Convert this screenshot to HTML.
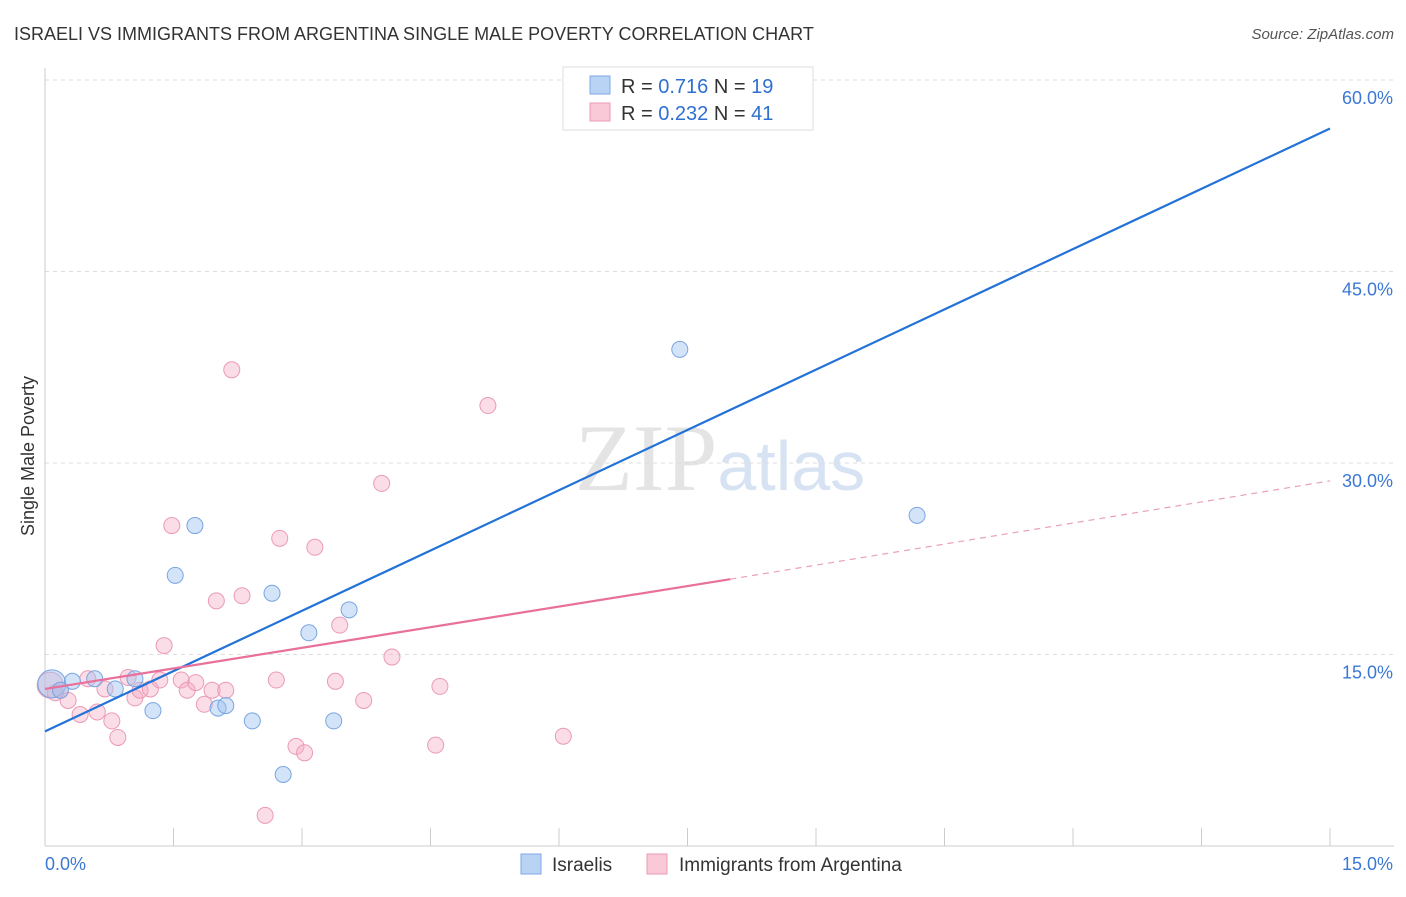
<!DOCTYPE html>
<html><head><meta charset="utf-8"><style>
body{margin:0;background:#fff;font-family:"Liberation Sans",sans-serif;}
</style></head><body>
<svg width="1406" height="892" xmlns="http://www.w3.org/2000/svg">
<text x="14" y="40" font-size="18" fill="#333">ISRAELI VS IMMIGRANTS FROM ARGENTINA SINGLE MALE POVERTY CORRELATION CHART</text>
<text x="1394" y="39" font-size="15" fill="#555" font-style="italic" text-anchor="end">Source: ZipAtlas.com</text>
<text x="34" y="456" font-size="18" fill="#333" transform="rotate(-90 34 456)" text-anchor="middle">Single Male Poverty</text>
<text x="720" y="490" font-size="95" fill="#e4e4e4" text-anchor="middle" font-family="Liberation Serif,serif">ZIP<tspan fill="#d7e3f3" font-family="Liberation Sans,sans-serif" font-size="70">atlas</tspan></text>
<g id="grid"></g><g id="axes"></g><g id="marks"></g>
<g>
<rect x="563" y="67" width="250" height="63" fill="#fff" stroke="#ddd"/>
<rect x="590" y="76" width="20" height="18" fill="#b9d3f5" stroke="#7eaae6"/>
<text x="621" y="93" font-size="20" fill="#333">R = <tspan fill="#2f6fd0">0.716</tspan>   N = <tspan fill="#2f6fd0">19</tspan></text>
<rect x="590" y="103" width="20" height="18" fill="#f9c9d7" stroke="#ee98b3"/>
<text x="621" y="120" font-size="20" fill="#333">R = <tspan fill="#2f6fd0">0.232</tspan>   N = <tspan fill="#2f6fd0">41</tspan></text>
</g>
<g>
<rect x="521" y="854" width="20" height="20" fill="#b9d3f5" stroke="#7eaae6"/>
<text x="552" y="871" font-size="19" fill="#333">Israelis</text>
<rect x="647" y="854" width="20" height="20" fill="#f9c9d7" stroke="#ee98b3"/>
<text x="679" y="871" font-size="19" fill="#333">Immigrants from Argentina</text>
</g>
</svg>
<script>
const blueX=[0.08,0.32,0.58,0.82,1.05,1.26,1.52,1.75,2.02,2.11,2.42,2.65,2.78,3.08,3.37,3.55,7.41,10.18,0.18,8.25];
const blueY=[12.7,12.9,13.1,12.3,13.1,10.6,21.2,25.1,10.8,11.0,9.8,19.8,5.6,16.7,9.8,18.5,38.9,25.9,12.2,57.2];
const pinkX=[0.06,0.18,0.27,0.41,0.50,0.61,0.70,0.78,0.85,0.97,1.05,1.11,1.23,1.34,1.39,1.48,1.59,1.66,1.76,1.86,1.95,2.0,2.11,2.18,2.30,2.57,2.70,2.74,2.93,3.03,3.15,3.39,3.44,3.72,3.93,4.05,4.56,4.61,5.17,6.05,0.12];
const pinkY=[12.6,12.2,11.4,10.3,13.1,10.5,12.3,9.8,8.5,13.2,11.6,12.2,12.3,13.0,15.7,25.1,13.0,12.2,12.8,11.1,12.2,19.2,12.2,37.3,19.6,2.4,13.0,24.1,7.8,7.3,23.4,12.9,17.3,11.4,28.4,14.8,7.9,12.5,34.5,8.6,12.0];
const blueLine=[0,8.98,15,56.2];
const pinkLine=[0,12.3,8.0,20.9,15,28.6];
const yTicks=[15,30,45,60];
const yTickLabels=["15.0%","30.0%","45.0%","60.0%"];
const xTicks=[0,1.5,3,4.5,6,7.5,9,10.5,12,13.5,15];
const NS="http://www.w3.org/2000/svg";
const sx=v=>45+v*(1330-45)/15;
const sy=v=>846-v*(846-463)/30;
function mk(t,a,p){const e=document.createElementNS(NS,t);for(const k in a)e.setAttribute(k,a[k]);document.getElementById(p).appendChild(e);return e;}
yTicks.forEach((t,i)=>{
 const l=mk('line',{x1:45,x2:1394,y1:sy(t),y2:sy(t),stroke:'#ddd','stroke-dasharray':'4 4'},'grid');
 
 
 const tx=mk('text',{x:1393,y:sy(t)+24,'font-size':18,fill:'#3b78d4','text-anchor':'end'},'axes');
 tx.textContent=yTickLabels[i];
 
 
});
const ax=mk('line',{x1:45,x2:1394,y1:846,y2:846,stroke:'#ccc'},'axes');


const ay=mk('line',{x1:45,x2:45,y1:68,y2:846,stroke:'#ccc'},'axes');


xTicks.forEach(t=>{
 const l=mk('line',{x1:sx(t),x2:sx(t),y1:828,y2:846,stroke:'#ccc'},'axes');
 
 
});
const x0=mk('text',{x:45,y:870,'font-size':18,fill:'#3b78d4'},'axes');x0.textContent='0.0%';


const x1=mk('text',{x:1393,y:870,'font-size':18,fill:'#3b78d4','text-anchor':'end'},'axes');x1.textContent='15.0%';


pinkX.forEach((x,i)=>{
 const c=mk('circle',{cx:sx(x),cy:sy(pinkY[i]),r:i==0?13:8,fill:'rgba(246,170,195,0.4)',stroke:'#eb9ab5','stroke-width':1},'marks');
 
 
});
blueX.forEach((x,i)=>{
 const c=mk('circle',{cx:sx(x),cy:sy(blueY[i]),r:i==0?14:8,fill:'rgba(160,196,240,0.45)',stroke:'#79a5e2','stroke-width':1},'marks');
 
 
});
const bl=mk('line',{x1:sx(blueLine[0]),y1:sy(blueLine[1]),x2:sx(blueLine[2]),y2:sy(blueLine[3]),stroke:'#2272d8','stroke-width':2.2},'marks');


const pl=mk('line',{x1:sx(pinkLine[0]),y1:sy(pinkLine[1]),x2:sx(pinkLine[2]),y2:sy(pinkLine[3]),stroke:'#e8709a','stroke-width':2.2},'marks');


const pd=mk('line',{x1:sx(pinkLine[2]),y1:sy(pinkLine[3]),x2:sx(pinkLine[4]),y2:sy(pinkLine[5]),stroke:'#e8a0b8','stroke-width':1.2,'stroke-dasharray':'6 5'},'marks');


</script>
</body></html>
